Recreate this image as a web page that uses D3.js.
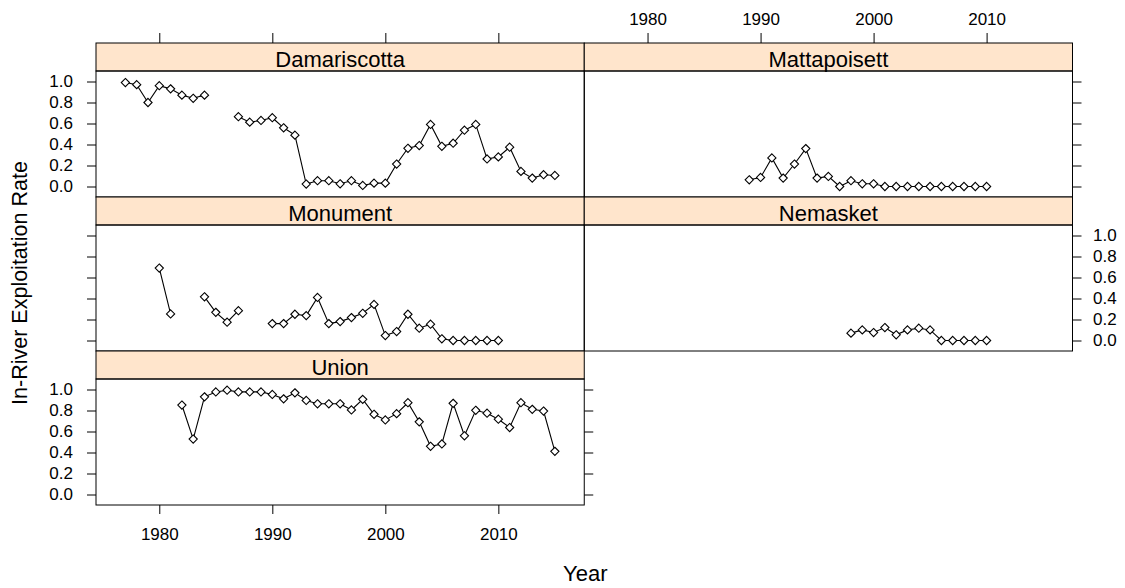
<!DOCTYPE html>
<html>
<head>
<meta charset="utf-8">
<script src="https://cdn.jsdelivr.net/npm/d3@7"></script>
<style>
  html, body { margin: 0; padding: 0; background: #fff; }
  svg { display: block; }
  text { font-family: "Liberation Sans", Arial, sans-serif; fill: #000; }
</style>
</head>
<body>
<svg id="chart" width="1125" height="588"></svg>
<script>
// Survey years shared by every river (null = no estimate that year)
const years = [1977, 1978, 1979, 1980, 1981, 1982, 1983, 1984, 1985, 1986,
               1987, 1988, 1989, 1990, 1991, 1992, 1993, 1994, 1995, 1996,
               1997, 1998, 1999, 2000, 2001, 2002, 2003, 2004, 2005, 2006,
               2007, 2008, 2009, 2010, 2011, 2012, 2013, 2014, 2015];

// In-river exploitation rate by river
const damariscotta = [0.99, 0.97, 0.80, 0.96, 0.93, 0.87, 0.84, 0.87, null, null,
                      0.665, 0.613, 0.629, 0.655, 0.559, 0.489, 0.023, 0.055, 0.055, 0.026,
                      0.055, 0.01, 0.032, 0.032, 0.214, 0.364, 0.39, 0.591, 0.383, 0.412,
                      0.536, 0.591, 0.262, 0.282, 0.374, 0.144, 0.08, 0.112, 0.105];
const mattapoisett = [null, null, null, null, null, null, null, null, null, null,
                      null, null, 0.064, 0.086, 0.272, 0.08, 0.214, 0.361, 0.08, 0.096,
                      0.0, 0.055, 0.026, 0.026, 0.0, 0.0, 0.0, 0.0, 0.0, 0.0,
                      0.0, 0.0, 0.0, 0.0, null, null, null, null, null];
const monument     = [null, null, null, 0.69, 0.253, null, null, 0.416, 0.268, 0.174,
                      0.284, null, null, 0.161, 0.161, 0.25, 0.237, 0.41, 0.161, 0.18,
                      0.218, 0.259, 0.344, 0.047, 0.085, 0.25, 0.117, 0.155, 0.016, 0.0,
                      0.0, 0.0, 0.0, 0.0, null, null, null, null, null];
const nemasket     = [null, null, null, null, null, null, null, null, null, null,
                      null, null, null, null, null, null, null, null, null, null,
                      null, 0.07, 0.101, 0.076, 0.123, 0.054, 0.101, 0.117, 0.101, 0.0,
                      0.0, 0.0, 0.0, 0.0, null, null, null, null, null];
const union        = [null, null, null, null, null, 0.852, 0.528, 0.93, 0.977, 0.993,
                      0.977, 0.977, 0.977, 0.953, 0.911, 0.968, 0.896, 0.864, 0.864, 0.864,
                      0.805, 0.906, 0.764, 0.71, 0.77, 0.874, 0.692, 0.459, 0.481, 0.868,
                      0.559, 0.802, 0.774, 0.717, 0.638, 0.874, 0.811, 0.795, 0.411];

const rivers = ["Damariscotta", "Mattapoisett", "Monument", "Nemasket", "Union"];
const riverValues = [damariscotta, mattapoisett, monument, nemasket, union];

const xTicks = [1980, 1990, 2000, 2010];
const yTicks = [0.0, 0.2, 0.4, 0.6, 0.8, 1.0];

// Trellis geometry: 2 columns x 3 rows, filled left-to-right, top-to-bottom
const gridLeft = 96, gridTop = 43;
const panelW = 488.25, stripH = 28, panelH = 126;
const rowH = stripH + panelH;
const nCols = 2;

const svg = d3.select("#chart");

const x = d3.scaleLinear().domain([1974.4, 2017.6]).range([0, panelW]);
const y = d3.scaleLinear().domain([-0.1, 1.1]).range([panelH, 0]);
const fmt = d3.format(".1f");

const line = d3.line()
  .defined(d => d.v !== null)
  .x(d => x(d.year))
  .y(d => y(d.v));

const diamond = r => `M0,${-r}L${r},0L0,${r}L${-r},0Z`;

function styleAxis(g, fontSize) {
  g.select(".domain").remove();
  g.selectAll(".tick line").attr("stroke", "#000").attr("stroke-width", 1);
  g.selectAll(".tick text")
    .attr("fill", "#000")
    .style("font-family", '"Liberation Sans", Arial, sans-serif')
    .style("font-size", fontSize + "px");
}

const tickFont = 17;
const nRows = Math.ceil(rivers.length / nCols);

rivers.forEach((name, i) => {
  const col = i % nCols, row = Math.floor(i / nCols);
  const px = gridLeft + col * panelW;
  const py = gridTop + row * rowH;
  const g = svg.append("g").attr("transform", `translate(${px},${py})`);

  // strip
  g.append("rect")
    .attr("x", 0).attr("y", 0).attr("width", panelW).attr("height", stripH)
    .attr("fill", "#ffe5cc").attr("stroke", "#000").attr("stroke-width", 1);
  g.append("text")
    .attr("x", panelW / 2).attr("y", 23.5)
    .attr("text-anchor", "middle")
    .style("font-size", "22px")
    .text(name);

  const p = g.append("g").attr("transform", `translate(0,${stripH})`);

  // axes: ticks on the outer edges, labels alternating sides
  const isLastInRow = col === nCols - 1 || i === rivers.length - 1;
  const hasBelow = i + nCols < rivers.length;

  if (col === 0) {
    const ax = d3.axisLeft(y).tickValues(yTicks).tickSize(9).tickPadding(14)
      .tickFormat(row % 2 === 0 ? fmt : () => "");
    p.append("g").call(ax).call(s => styleAxis(s, tickFont));
  }
  if (isLastInRow) {
    const ax = d3.axisRight(y).tickValues(yTicks).tickSize(9).tickPadding(11.5)
      .tickFormat(row % 2 === 1 ? fmt : () => "");
    p.append("g").attr("transform", `translate(${panelW},0)`).call(ax).call(s => styleAxis(s, tickFont));
  }
  if (row === 0) {
    const ax = d3.axisTop(x).tickValues(xTicks).tickSize(10).tickPadding(8)
      .tickFormat(col % 2 === 1 ? d3.format("d") : () => "");
    g.append("g").call(ax).call(s => styleAxis(s, tickFont));
  }
  if (!hasBelow && row === nRows - 1) {
    const ax = d3.axisBottom(x).tickValues(xTicks).tickSize(9).tickPadding(14)
      .tickFormat(col % 2 === 0 ? d3.format("d") : () => "");
    p.append("g").attr("transform", `translate(0,${panelH})`).call(ax).call(s => styleAxis(s, tickFont));
  }

  // panel frame
  p.append("rect")
    .attr("x", 0).attr("y", 0).attr("width", panelW).attr("height", panelH)
    .attr("fill", "none").attr("stroke", "#000").attr("stroke-width", 1);

  // series: connected line with open diamonds
  const data = years.map((yr, k) => ({ year: yr, v: riverValues[i][k] }));
  p.append("path")
    .datum(data)
    .attr("d", line)
    .attr("fill", "none")
    .attr("stroke", "#000")
    .attr("stroke-width", 1.1);
  p.selectAll("path.pt")
    .data(data.filter(d => d.v !== null))
    .join("path")
    .attr("class", "pt")
    .attr("transform", d => `translate(${x(d.year)},${y(d.v)})`)
    .attr("d", diamond(4.1))
    .attr("fill", "#fff")
    .attr("stroke", "#000")
    .attr("stroke-width", 1.1);
});

// axis titles
svg.append("text")
  .attr("transform", "translate(27,283) rotate(-90)")
  .attr("text-anchor", "middle")
  .style("font-size", "21.5px")
  .text("In-River Exploitation Rate");

svg.append("text")
  .attr("x", gridLeft + panelW + 1)
  .attr("y", 581)
  .attr("text-anchor", "middle")
  .style("font-size", "22px")
  .text("Year");
</script>
</body>
</html>
